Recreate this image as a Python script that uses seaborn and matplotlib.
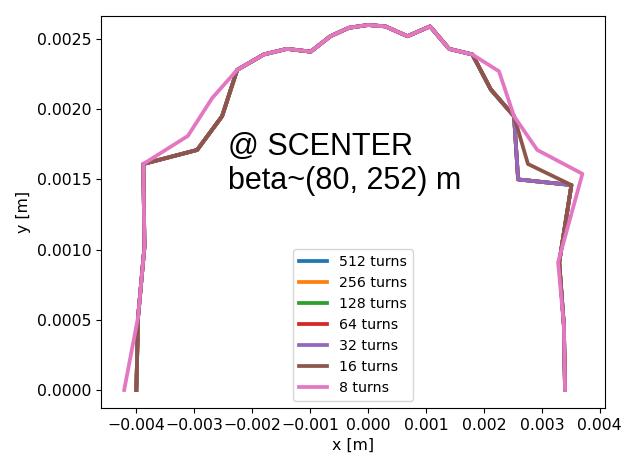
import matplotlib
matplotlib.use("Agg")
import matplotlib.pyplot as plt
import seaborn as sns
import pandas as pd

turns = [512, 256, 128, 64, 32, 16, 8]
colors = ["#1f77b4", "#ff7f0e", "#2ca02c", "#d62728", "#9467bd", "#8c564b", "#e377c2"]

# aperture for 32 turns and longer (curves coincide)
x_long = [-0.00400, -0.00397, -0.00386, -0.00388, -0.00295, -0.00252, -0.00226, -0.00180,
          -0.00140, -0.00099, -0.00065, -0.00033, 0.00000, 0.00030, 0.00068, 0.00107,
          0.00140, 0.00180, 0.00212, 0.00252, 0.00259, 0.00351, 0.00330, 0.00338, 0.00340]
y_long = [0.00000, 0.00052, 0.00102, 0.00161, 0.00171, 0.00195, 0.00228, 0.00239,
          0.00243, 0.00241, 0.00252, 0.00258, 0.00260, 0.00259, 0.00252, 0.00259,
          0.00243, 0.00239, 0.00214, 0.00195, 0.00150, 0.00146, 0.00091, 0.00046, 0.00000]

x_16 = [-0.00400, -0.00397, -0.00386, -0.00388, -0.00295, -0.00252, -0.00226, -0.00180,
        -0.00140, -0.00099, -0.00065, -0.00033, 0.00000, 0.00030, 0.00068, 0.00107,
        0.00140, 0.00180, 0.00212, 0.00252, 0.00276, 0.00351, 0.00330, 0.00338, 0.00340]
y_16 = [0.00000, 0.00052, 0.00102, 0.00161, 0.00171, 0.00195, 0.00228, 0.00239,
        0.00243, 0.00241, 0.00252, 0.00258, 0.00260, 0.00259, 0.00252, 0.00259,
        0.00243, 0.00239, 0.00214, 0.00195, 0.00161, 0.00146, 0.00091, 0.00046, 0.00000]

x_8 = [-0.00421, -0.00397, -0.00386, -0.00388, -0.00311, -0.00269, -0.00226, -0.00180,
       -0.00140, -0.00099, -0.00065, -0.00033, 0.00000, 0.00030, 0.00068, 0.00107,
       0.00140, 0.00180, 0.00226, 0.00252, 0.00292, 0.00370, 0.00328, 0.00338, 0.00340]
y_8 = [0.00000, 0.00052, 0.00102, 0.00161, 0.00181, 0.00208, 0.00228, 0.00239,
       0.00243, 0.00241, 0.00252, 0.00258, 0.00260, 0.00259, 0.00252, 0.00259,
       0.00243, 0.00239, 0.00227, 0.00195, 0.00171, 0.00154, 0.00091, 0.00046, 0.00000]

series = {512: (x_long, y_long), 256: (x_long, y_long), 128: (x_long, y_long),
          64: (x_long, y_long), 32: (x_long, y_long), 16: (x_16, y_16), 8: (x_8, y_8)}

rows = []
for t in turns:
    xs, ys = series[t]
    for i, (xv, yv) in enumerate(zip(xs, ys)):
        rows.append({"x": xv, "y": yv, "turns": f"{t} turns", "idx": i})
df = pd.DataFrame(rows)

fig = plt.figure(figsize=(6.21, 4.59), dpi=100)
ax = fig.add_axes([101 / 621, 1 - 408 / 459, 504 / 621, 392 / 459])

hue_order = [f"{t} turns" for t in turns]
sns.lineplot(data=df, x="x", y="y", hue="turns", hue_order=hue_order,
             palette=colors, sort=False, estimator=None, linewidth=2.7, ax=ax)

ax.set_xlim(-0.00461, 0.00409)
ax.set_ylim(-0.000128, 0.002664)
ax.set_xticks([-0.004, -0.003, -0.002, -0.001, 0.0, 0.001, 0.002, 0.003, 0.004])
ax.set_yticks([0.0, 0.0005, 0.001, 0.0015, 0.002, 0.0025])
ax.set_xticklabels(["\u22120.004", "\u22120.003", "\u22120.002", "\u22120.001", "0.000",
                    "0.001", "0.002", "0.003", "0.004"])
ax.set_yticklabels(["0.0000", "0.0005", "0.0010", "0.0015", "0.0020", "0.0025"])
ax.tick_params(labelsize=11.3)
ax.set_xlabel("x [m]", fontsize=11.3)
ax.set_ylabel("y [m]", fontsize=11.3)

ax.text(-0.00241, 0.001838, "@ SCENTER\nbeta~(80, 252) m", fontsize=22,
        family="Liberation Sans", ha="left", va="top", linespacing=1.19)

handles, labels = ax.get_legend_handles_labels()
ax.legend(handles, labels, loc="lower center", fontsize=10.2)

fig.savefig("out.png", dpi=100)
